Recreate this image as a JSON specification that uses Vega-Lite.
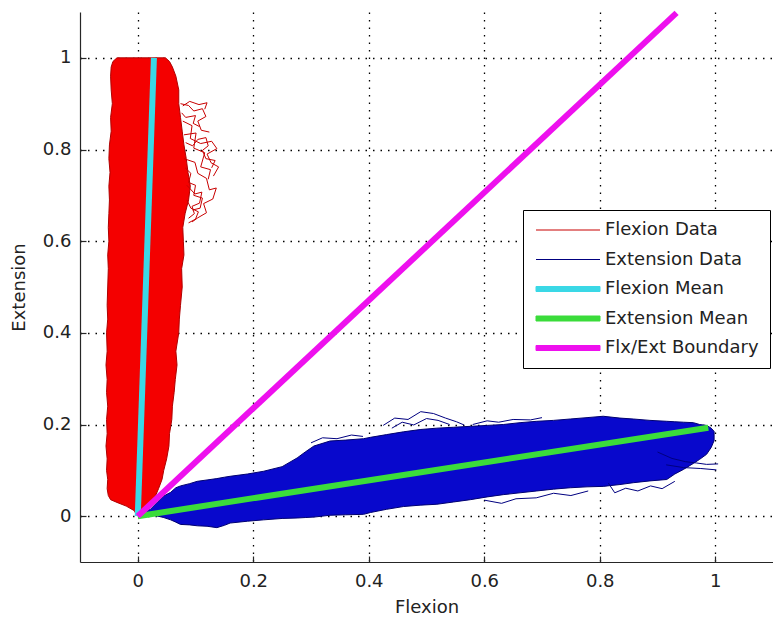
{
  "$schema": "https://vega.github.io/schema/vega-lite/v6.json",
  "width": 693,
  "height": 550,
  "autosize": {"type": "none"},
  "padding": {"left": 80, "top": 12, "right": 0, "bottom": 61},
  "background": "white",
  "config": {
    "view": {"stroke": null},
    "font": "DejaVu Sans",
    "axis": {
      "grid": true,
      "gridColor": "#000000",
      "gridDash": [1.5, 6],
      "gridWidth": 1.3,
      "domainColor": "#262626",
      "domainWidth": 1.2,
      "tickColor": "#262626",
      "tickSize": -6,
      "tickWidth": 1.2,
      "labelFont": "DejaVu Sans",
      "labelFontSize": 18,
      "labelColor": "#222222",
      "labelFlush": false,
      "labelOverlap": false,
      "titleFont": "DejaVu Sans",
      "titleFontSize": 18,
      "titleFontWeight": "normal",
      "titleColor": "#222222",
      "format": "~g"
    },
    "axisX": {"labelPadding": 16, "titlePadding": 8},
    "axisY": {"labelPadding": 15, "titlePadding": 14}
  },
  "datasets": {
    "flex": [
      {"y": 0.002, "xl": -0.002, "xr": 0.003},
      {"y": 0.012, "xl": -0.006, "xr": 0.010},
      {"y": 0.022, "xl": -0.020, "xr": 0.017},
      {"y": 0.030, "xl": -0.036, "xr": 0.022},
      {"y": 0.036, "xl": -0.047, "xr": 0.027},
      {"y": 0.045, "xl": -0.051, "xr": 0.031},
      {"y": 0.060, "xl": -0.053, "xr": 0.036},
      {"y": 0.080, "xl": -0.052, "xr": 0.042},
      {"y": 0.100, "xl": -0.054, "xr": 0.045},
      {"y": 0.125, "xl": -0.053, "xr": 0.050},
      {"y": 0.153, "xl": -0.055, "xr": 0.054},
      {"y": 0.180, "xl": -0.053, "xr": 0.055},
      {"y": 0.211, "xl": -0.054, "xr": 0.059},
      {"y": 0.240, "xl": -0.052, "xr": 0.060},
      {"y": 0.270, "xl": -0.054, "xr": 0.063},
      {"y": 0.298, "xl": -0.053, "xr": 0.065},
      {"y": 0.330, "xl": -0.055, "xr": 0.068},
      {"y": 0.360, "xl": -0.053, "xr": 0.066},
      {"y": 0.400, "xl": -0.054, "xr": 0.071},
      {"y": 0.430, "xl": -0.052, "xr": 0.072},
      {"y": 0.460, "xl": -0.053, "xr": 0.074},
      {"y": 0.500, "xl": -0.052, "xr": 0.077},
      {"y": 0.540, "xl": -0.051, "xr": 0.076},
      {"y": 0.570, "xl": -0.052, "xr": 0.080},
      {"y": 0.600, "xl": -0.050, "xr": 0.079},
      {"y": 0.630, "xl": -0.051, "xr": 0.078},
      {"y": 0.660, "xl": -0.050, "xr": 0.082},
      {"y": 0.690, "xl": -0.049, "xr": 0.088},
      {"y": 0.720, "xl": -0.050, "xr": 0.091},
      {"y": 0.750, "xl": -0.048, "xr": 0.087},
      {"y": 0.780, "xl": -0.050, "xr": 0.084},
      {"y": 0.810, "xl": -0.049, "xr": 0.080},
      {"y": 0.840, "xl": -0.046, "xr": 0.077},
      {"y": 0.870, "xl": -0.047, "xr": 0.074},
      {"y": 0.900, "xl": -0.044, "xr": 0.071},
      {"y": 0.930, "xl": -0.046, "xr": 0.071},
      {"y": 0.960, "xl": -0.047, "xr": 0.066},
      {"y": 0.980, "xl": -0.046, "xr": 0.060},
      {"y": 0.992, "xl": -0.043, "xr": 0.055},
      {"y": 1.000, "xl": -0.036, "xr": 0.048}
    ],
    "ext": [
      {"x": 0.004, "yl": 0.000, "yu": 0.004},
      {"x": 0.022, "yl": 0.003, "yu": 0.015},
      {"x": 0.035, "yl": 0.000, "yu": 0.032},
      {"x": 0.045, "yl": -0.003, "yu": 0.044},
      {"x": 0.057, "yl": -0.008, "yu": 0.052},
      {"x": 0.066, "yl": -0.013, "yu": 0.062},
      {"x": 0.074, "yl": -0.018, "yu": 0.066},
      {"x": 0.090, "yl": -0.019, "yu": 0.071},
      {"x": 0.103, "yl": -0.021, "yu": 0.076},
      {"x": 0.120, "yl": -0.022, "yu": 0.079},
      {"x": 0.137, "yl": -0.025, "yu": 0.082},
      {"x": 0.150, "yl": -0.020, "yu": 0.085},
      {"x": 0.160, "yl": -0.015, "yu": 0.087},
      {"x": 0.190, "yl": -0.011, "yu": 0.092},
      {"x": 0.218, "yl": -0.008, "yu": 0.098},
      {"x": 0.250, "yl": -0.005, "yu": 0.108},
      {"x": 0.276, "yl": -0.004, "yu": 0.127},
      {"x": 0.290, "yl": -0.003, "yu": 0.140},
      {"x": 0.305, "yl": -0.002, "yu": 0.153},
      {"x": 0.333, "yl": 0.002, "yu": 0.164},
      {"x": 0.360, "yl": 0.003, "yu": 0.166},
      {"x": 0.391, "yl": 0.004, "yu": 0.169},
      {"x": 0.403, "yl": 0.008, "yu": 0.172},
      {"x": 0.431, "yl": 0.015, "yu": 0.178},
      {"x": 0.460, "yl": 0.021, "yu": 0.184},
      {"x": 0.489, "yl": 0.024, "yu": 0.189},
      {"x": 0.518, "yl": 0.026, "yu": 0.192},
      {"x": 0.547, "yl": 0.031, "yu": 0.194},
      {"x": 0.576, "yl": 0.036, "yu": 0.196},
      {"x": 0.605, "yl": 0.042, "yu": 0.198},
      {"x": 0.633, "yl": 0.047, "yu": 0.200},
      {"x": 0.662, "yl": 0.051, "yu": 0.204},
      {"x": 0.691, "yl": 0.055, "yu": 0.207},
      {"x": 0.720, "yl": 0.059, "yu": 0.209},
      {"x": 0.749, "yl": 0.062, "yu": 0.212},
      {"x": 0.778, "yl": 0.064, "yu": 0.215},
      {"x": 0.806, "yl": 0.065, "yu": 0.218},
      {"x": 0.835, "yl": 0.069, "yu": 0.214},
      {"x": 0.858, "yl": 0.073, "yu": 0.212},
      {"x": 0.887, "yl": 0.077, "yu": 0.209},
      {"x": 0.916, "yl": 0.080, "yu": 0.207},
      {"x": 0.930, "yl": 0.092, "yu": 0.206},
      {"x": 0.945, "yl": 0.102, "yu": 0.205},
      {"x": 0.962, "yl": 0.115, "yu": 0.204},
      {"x": 0.973, "yl": 0.124, "yu": 0.200},
      {"x": 0.985, "yl": 0.135, "yu": 0.198},
      {"x": 0.993, "yl": 0.150, "yu": 0.192},
      {"x": 0.998, "yl": 0.165, "yu": 0.185}
    ],
    "traces": [
      {"series": "Flexion Data", "trace": "f1", "k": 0, "x": 0.074, "y": 0.900},
      {"series": "Flexion Data", "trace": "f1", "k": 1, "x": 0.088, "y": 0.896},
      {"series": "Flexion Data", "trace": "f1", "k": 2, "x": 0.097, "y": 0.884},
      {"series": "Flexion Data", "trace": "f1", "k": 3, "x": 0.112, "y": 0.889},
      {"series": "Flexion Data", "trace": "f1", "k": 4, "x": 0.118, "y": 0.872},
      {"series": "Flexion Data", "trace": "f1", "k": 5, "x": 0.104, "y": 0.862},
      {"series": "Flexion Data", "trace": "f1", "k": 6, "x": 0.110, "y": 0.842},
      {"series": "Flexion Data", "trace": "f1", "k": 7, "x": 0.124, "y": 0.838},
      {"series": "Flexion Data", "trace": "f2", "k": 0, "x": 0.078, "y": 0.862},
      {"series": "Flexion Data", "trace": "f2", "k": 1, "x": 0.094, "y": 0.852},
      {"series": "Flexion Data", "trace": "f2", "k": 2, "x": 0.091, "y": 0.824},
      {"series": "Flexion Data", "trace": "f2", "k": 3, "x": 0.109, "y": 0.813},
      {"series": "Flexion Data", "trace": "f2", "k": 4, "x": 0.128, "y": 0.818},
      {"series": "Flexion Data", "trace": "f2", "k": 5, "x": 0.137, "y": 0.802},
      {"series": "Flexion Data", "trace": "f2", "k": 6, "x": 0.120, "y": 0.790},
      {"series": "Flexion Data", "trace": "f2", "k": 7, "x": 0.127, "y": 0.771},
      {"series": "Flexion Data", "trace": "f2", "k": 8, "x": 0.140, "y": 0.762},
      {"series": "Flexion Data", "trace": "f2", "k": 9, "x": 0.131, "y": 0.742},
      {"series": "Flexion Data", "trace": "f3", "k": 0, "x": 0.080, "y": 0.780},
      {"series": "Flexion Data", "trace": "f3", "k": 1, "x": 0.099, "y": 0.772},
      {"series": "Flexion Data", "trace": "f3", "k": 2, "x": 0.104, "y": 0.748},
      {"series": "Flexion Data", "trace": "f3", "k": 3, "x": 0.119, "y": 0.737},
      {"series": "Flexion Data", "trace": "f3", "k": 4, "x": 0.124, "y": 0.712},
      {"series": "Flexion Data", "trace": "f3", "k": 5, "x": 0.136, "y": 0.716},
      {"series": "Flexion Data", "trace": "f3", "k": 6, "x": 0.130, "y": 0.692},
      {"series": "Flexion Data", "trace": "f3", "k": 7, "x": 0.114, "y": 0.682},
      {"series": "Flexion Data", "trace": "f3", "k": 8, "x": 0.119, "y": 0.662},
      {"series": "Flexion Data", "trace": "f3", "k": 9, "x": 0.104, "y": 0.651},
      {"series": "Flexion Data", "trace": "f3", "k": 10, "x": 0.094, "y": 0.642},
      {"series": "Flexion Data", "trace": "f4", "k": 0, "x": 0.085, "y": 0.722},
      {"series": "Flexion Data", "trace": "f4", "k": 1, "x": 0.099, "y": 0.703},
      {"series": "Flexion Data", "trace": "f4", "k": 2, "x": 0.111, "y": 0.707},
      {"series": "Flexion Data", "trace": "f4", "k": 3, "x": 0.107, "y": 0.683},
      {"series": "Flexion Data", "trace": "f4", "k": 4, "x": 0.094, "y": 0.676},
      {"series": "Flexion Data", "trace": "f4", "k": 5, "x": 0.098, "y": 0.660},
      {"series": "Flexion Data", "trace": "f4", "k": 6, "x": 0.088, "y": 0.650},
      {"series": "Flexion Data", "trace": "f5", "k": 0, "x": 0.080, "y": 0.832},
      {"series": "Flexion Data", "trace": "f5", "k": 1, "x": 0.101, "y": 0.836},
      {"series": "Flexion Data", "trace": "f5", "k": 2, "x": 0.097, "y": 0.803},
      {"series": "Flexion Data", "trace": "f5", "k": 3, "x": 0.116, "y": 0.793},
      {"series": "Flexion Data", "trace": "f5", "k": 4, "x": 0.109, "y": 0.762},
      {"series": "Flexion Data", "trace": "f5", "k": 5, "x": 0.126, "y": 0.756},
      {"series": "Flexion Data", "trace": "f5", "k": 6, "x": 0.122, "y": 0.735},
      {"series": "Flexion Data", "trace": "f6", "k": 0, "x": 0.076, "y": 0.880},
      {"series": "Flexion Data", "trace": "f6", "k": 1, "x": 0.083, "y": 0.870},
      {"series": "Flexion Data", "trace": "f6", "k": 2, "x": 0.100, "y": 0.874},
      {"series": "Flexion Data", "trace": "f6", "k": 3, "x": 0.096, "y": 0.857},
      {"series": "Flexion Data", "trace": "f6", "k": 4, "x": 0.107, "y": 0.850},
      {"series": "Flexion Data", "trace": "f7", "k": 0, "x": 0.082, "y": 0.760},
      {"series": "Flexion Data", "trace": "f7", "k": 1, "x": 0.092, "y": 0.748},
      {"series": "Flexion Data", "trace": "f7", "k": 2, "x": 0.088, "y": 0.728},
      {"series": "Flexion Data", "trace": "f7", "k": 3, "x": 0.100, "y": 0.722},
      {"series": "Flexion Data", "trace": "f7", "k": 4, "x": 0.097, "y": 0.700},
      {"series": "Flexion Data", "trace": "f7", "k": 5, "x": 0.112, "y": 0.694},
      {"series": "Flexion Data", "trace": "f7", "k": 6, "x": 0.108, "y": 0.672},
      {"series": "Flexion Data", "trace": "f7", "k": 7, "x": 0.095, "y": 0.668},
      {"series": "Flexion Data", "trace": "f8", "k": 0, "x": 0.083, "y": 0.815},
      {"series": "Flexion Data", "trace": "f8", "k": 1, "x": 0.095, "y": 0.808},
      {"series": "Flexion Data", "trace": "f8", "k": 2, "x": 0.104, "y": 0.822},
      {"series": "Flexion Data", "trace": "f8", "k": 3, "x": 0.118, "y": 0.826},
      {"series": "Flexion Data", "trace": "f8", "k": 4, "x": 0.122, "y": 0.808},
      {"series": "Flexion Data", "trace": "f8", "k": 5, "x": 0.112, "y": 0.798},
      {"series": "Flexion Data", "trace": "f8", "k": 6, "x": 0.118, "y": 0.780},
      {"series": "Flexion Data", "trace": "f8", "k": 7, "x": 0.134, "y": 0.776},
      {"series": "Flexion Data", "trace": "f8", "k": 8, "x": 0.128, "y": 0.760},
      {"series": "Flexion Data", "trace": "f9", "k": 0, "x": 0.085, "y": 0.690},
      {"series": "Flexion Data", "trace": "f9", "k": 1, "x": 0.092, "y": 0.672},
      {"series": "Flexion Data", "trace": "f9", "k": 2, "x": 0.105, "y": 0.664},
      {"series": "Flexion Data", "trace": "f9", "k": 3, "x": 0.100, "y": 0.648},
      {"series": "Flexion Data", "trace": "f9", "k": 4, "x": 0.088, "y": 0.640},
      {"series": "Flexion Data", "trace": "f10", "k": 0, "x": 0.078, "y": 0.895},
      {"series": "Flexion Data", "trace": "f10", "k": 1, "x": 0.090, "y": 0.905},
      {"series": "Flexion Data", "trace": "f10", "k": 2, "x": 0.106, "y": 0.898},
      {"series": "Flexion Data", "trace": "f10", "k": 3, "x": 0.120, "y": 0.902},
      {"series": "Flexion Data", "trace": "f10", "k": 4, "x": 0.116, "y": 0.888},
      {"series": "Extension Data", "trace": "e1", "k": 0, "x": 0.425, "y": 0.198},
      {"series": "Extension Data", "trace": "e1", "k": 1, "x": 0.445, "y": 0.214},
      {"series": "Extension Data", "trace": "e1", "k": 2, "x": 0.468, "y": 0.211},
      {"series": "Extension Data", "trace": "e1", "k": 3, "x": 0.490, "y": 0.228},
      {"series": "Extension Data", "trace": "e1", "k": 4, "x": 0.512, "y": 0.224},
      {"series": "Extension Data", "trace": "e1", "k": 5, "x": 0.533, "y": 0.214},
      {"series": "Extension Data", "trace": "e1", "k": 6, "x": 0.552, "y": 0.206},
      {"series": "Extension Data", "trace": "e1", "k": 7, "x": 0.565, "y": 0.199},
      {"series": "Extension Data", "trace": "e2", "k": 0, "x": 0.440, "y": 0.192},
      {"series": "Extension Data", "trace": "e2", "k": 1, "x": 0.458, "y": 0.205},
      {"series": "Extension Data", "trace": "e2", "k": 2, "x": 0.478, "y": 0.199},
      {"series": "Extension Data", "trace": "e2", "k": 3, "x": 0.500, "y": 0.213},
      {"series": "Extension Data", "trace": "e2", "k": 4, "x": 0.520, "y": 0.209},
      {"series": "Extension Data", "trace": "e2", "k": 5, "x": 0.540, "y": 0.200},
      {"series": "Extension Data", "trace": "e3", "k": 0, "x": 0.900, "y": 0.140},
      {"series": "Extension Data", "trace": "e3", "k": 1, "x": 0.925, "y": 0.126},
      {"series": "Extension Data", "trace": "e3", "k": 2, "x": 0.948, "y": 0.119},
      {"series": "Extension Data", "trace": "e3", "k": 3, "x": 0.968, "y": 0.116},
      {"series": "Extension Data", "trace": "e3", "k": 4, "x": 0.985, "y": 0.113},
      {"series": "Extension Data", "trace": "e3", "k": 5, "x": 1.005, "y": 0.114},
      {"series": "Extension Data", "trace": "e4", "k": 0, "x": 0.915, "y": 0.112},
      {"series": "Extension Data", "trace": "e4", "k": 1, "x": 0.945, "y": 0.106},
      {"series": "Extension Data", "trace": "e4", "k": 2, "x": 0.975, "y": 0.104},
      {"series": "Extension Data", "trace": "e4", "k": 3, "x": 1.002, "y": 0.101},
      {"series": "Extension Data", "trace": "e5", "k": 0, "x": 0.815, "y": 0.072},
      {"series": "Extension Data", "trace": "e5", "k": 1, "x": 0.826, "y": 0.051},
      {"series": "Extension Data", "trace": "e5", "k": 2, "x": 0.845, "y": 0.061},
      {"series": "Extension Data", "trace": "e5", "k": 3, "x": 0.866, "y": 0.055},
      {"series": "Extension Data", "trace": "e5", "k": 4, "x": 0.888, "y": 0.066},
      {"series": "Extension Data", "trace": "e5", "k": 5, "x": 0.908, "y": 0.060},
      {"series": "Extension Data", "trace": "e5", "k": 6, "x": 0.930, "y": 0.076},
      {"series": "Extension Data", "trace": "e6", "k": 0, "x": 0.600, "y": 0.035},
      {"series": "Extension Data", "trace": "e6", "k": 1, "x": 0.630, "y": 0.028},
      {"series": "Extension Data", "trace": "e6", "k": 2, "x": 0.655, "y": 0.038},
      {"series": "Extension Data", "trace": "e6", "k": 3, "x": 0.690, "y": 0.040},
      {"series": "Extension Data", "trace": "e6", "k": 4, "x": 0.720, "y": 0.050},
      {"series": "Extension Data", "trace": "e6", "k": 5, "x": 0.750, "y": 0.045},
      {"series": "Extension Data", "trace": "e6", "k": 6, "x": 0.780, "y": 0.055},
      {"series": "Extension Data", "trace": "e7", "k": 0, "x": 0.300, "y": 0.160},
      {"series": "Extension Data", "trace": "e7", "k": 1, "x": 0.320, "y": 0.171},
      {"series": "Extension Data", "trace": "e7", "k": 2, "x": 0.345, "y": 0.169},
      {"series": "Extension Data", "trace": "e7", "k": 3, "x": 0.370, "y": 0.177},
      {"series": "Extension Data", "trace": "e7", "k": 4, "x": 0.390, "y": 0.174},
      {"series": "Extension Data", "trace": "e8", "k": 0, "x": 0.580, "y": 0.200},
      {"series": "Extension Data", "trace": "e8", "k": 1, "x": 0.605, "y": 0.208},
      {"series": "Extension Data", "trace": "e8", "k": 2, "x": 0.625, "y": 0.205},
      {"series": "Extension Data", "trace": "e8", "k": 3, "x": 0.650, "y": 0.211},
      {"series": "Extension Data", "trace": "e8", "k": 4, "x": 0.680, "y": 0.210},
      {"series": "Extension Data", "trace": "e8", "k": 5, "x": 0.700, "y": 0.215}
    ],
    "means": [
      {"series": "Flexion Mean", "x": 0.0, "y": 0.0},
      {"series": "Flexion Mean", "x": 0.028, "y": 1.0},
      {"series": "Extension Mean", "x": 0.0, "y": 0.0},
      {"series": "Extension Mean", "x": 0.988, "y": 0.193},
      {"series": "Flx/Ext Boundary", "x": 0.0, "y": 0.0},
      {"series": "Flx/Ext Boundary", "x": 0.933, "y": 1.098}
    ]
  },
  "layer": [
    {
      "data": {"name": "flex"},
      "mark": {"type": "area", "orient": "horizontal", "color": "#f40000", "stroke": "#b00000", "strokeWidth": 1},
      "encoding": {
        "y": {"field": "y", "type": "quantitative", "title": "Extension", "scale": {"domain": [-0.1, 1.1], "nice": false, "zero": false}, "axis": {"values": [0, 0.2, 0.4, 0.6, 0.8, 1]}},
        "x": {"field": "xl", "type": "quantitative", "title": "Flexion", "scale": {"domain": [-0.1, 1.1], "nice": false, "zero": false}, "axis": {"values": [0, 0.2, 0.4, 0.6, 0.8, 1]}},
        "x2": {"field": "xr"}
      }
    },
    {
      "data": {"name": "ext"},
      "mark": {"type": "area", "orient": "vertical", "color": "#0808cc", "stroke": "#000070", "strokeWidth": 1},
      "encoding": {
        "x": {"field": "x", "type": "quantitative", "title": "Flexion", "scale": {"domain": [-0.1, 1.1], "nice": false, "zero": false}},
        "y": {"field": "yl", "type": "quantitative", "title": "Extension", "scale": {"domain": [-0.1, 1.1], "nice": false, "zero": false}},
        "y2": {"field": "yu"}
      }
    },
    {
      "data": {"name": "traces"},
      "mark": {"type": "line", "strokeWidth": 1},
      "encoding": {
        "x": {"field": "x", "type": "quantitative", "title": "Flexion", "scale": {"domain": [-0.1, 1.1], "nice": false, "zero": false}},
        "y": {"field": "y", "type": "quantitative", "title": "Extension", "scale": {"domain": [-0.1, 1.1], "nice": false, "zero": false}},
        "detail": {"field": "trace", "type": "nominal"},
        "order": {"field": "k", "type": "quantitative"},
        "color": {
          "field": "series", "type": "nominal",
          "scale": {"domain": ["Flexion Data", "Extension Data", "Flexion Mean", "Extension Mean", "Flx/Ext Boundary"], "range": ["#c80000", "#000080", "#3ad8e6", "#3bdc3b", "#ee10ee"]},
          "legend": {
            "orient": "none", "legendX": 443, "legendY": 198, "title": null,
            "strokeColor": "#000000", "fillColor": "#ffffff", "padding": 11,
            "labelFont": "DejaVu Sans", "labelFontSize": 18, "labelColor": "#222222", "labelLimit": 400,
            "symbolType": "M-12.8,0H12.8", "symbolSize": 25, "symbolStrokeWidth": 1,
            "rowPadding": 11.5, "symbolOffset": 25, "labelOffset": 28,
            "encode": {"symbols": {"update": {
              "strokeWidth": {"value": 1},
              "shape": {"signal": "indexof(['Flexion Data','Extension Data'], datum.value) >= 0 ? 'M-12.8,0H12.8' : 'M-12.8,-1H12.8V1H-12.8Z'"},
              "fill": [{"test": "indexof(['Flexion Data','Extension Data'], datum.value) >= 0", "value": "transparent"}, {"scale": "color", "field": "value"}]
            }}}
          }
        }
      }
    },
    {
      "data": {"name": "means"},
      "mark": {"type": "line", "strokeWidth": 6},
      "encoding": {
        "x": {"field": "x", "type": "quantitative", "title": "Flexion", "scale": {"domain": [-0.1, 1.1], "nice": false, "zero": false}},
        "y": {"field": "y", "type": "quantitative", "title": "Extension", "scale": {"domain": [-0.1, 1.1], "nice": false, "zero": false}},
        "color": {
          "field": "series", "type": "nominal",
          "scale": {"domain": ["Flexion Data", "Extension Data", "Flexion Mean", "Extension Mean", "Flx/Ext Boundary"], "range": ["#c80000", "#000080", "#3ad8e6", "#3bdc3b", "#ee10ee"]}
        }
      }
    }
  ]
}
